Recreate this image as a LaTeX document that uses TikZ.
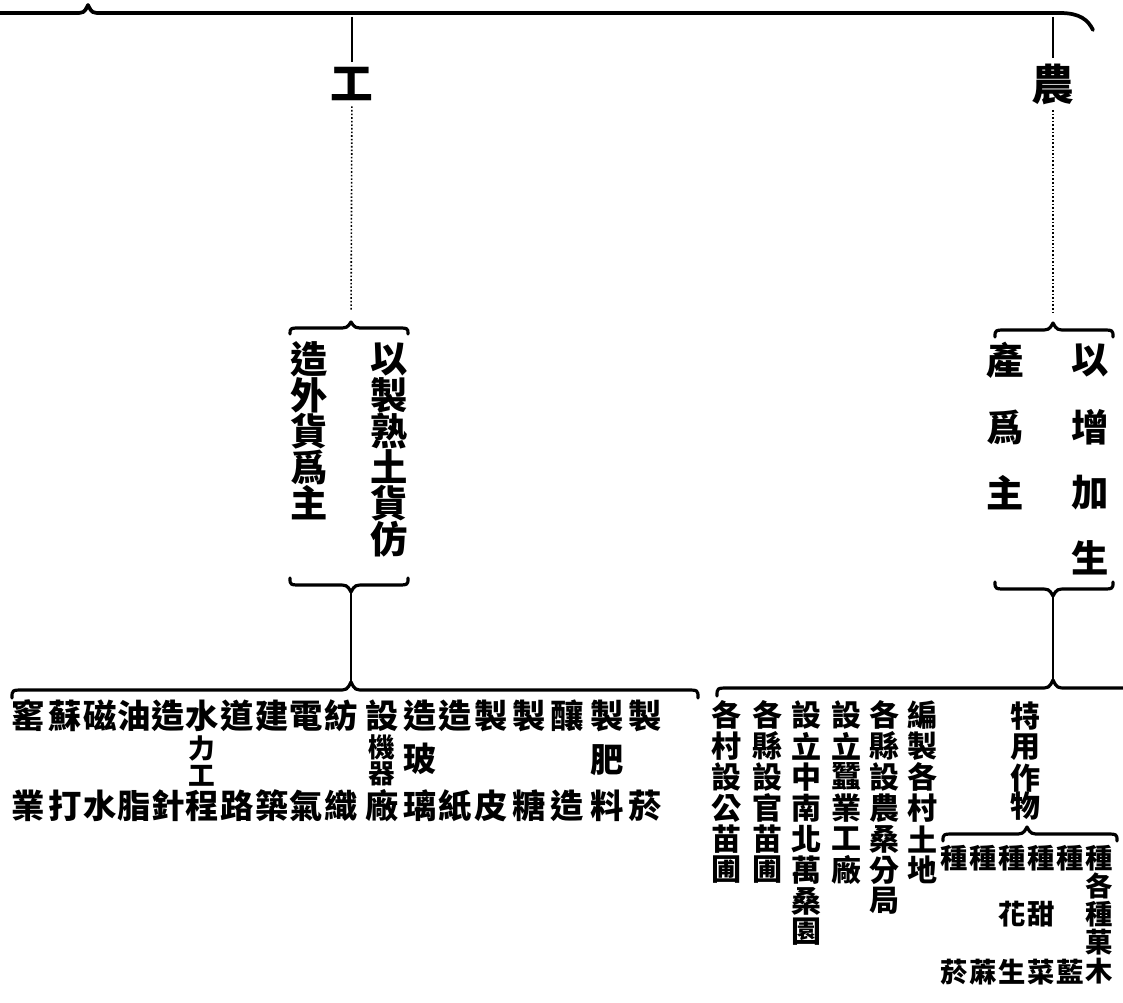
\documentclass[tikz,border=0pt]{standalone}
\usepackage{fontspec}
\newfontfamily\cjk{Noto Sans CJK TC}
\newcommand\hbrace[6]{%
  \draw[brc] ({#1},{#3-(#5)}) .. controls ({#1},{#3}) .. ({#1+12},{#3})
    -- ({#4-14},{#3}) .. controls ({#4-4},{#3}) .. ({#4},{#3+(#5)})
    .. controls ({#4+4},{#3}) .. ({#4+14},{#3}) -- ({#2-12},{#3})
    .. controls ({#2},{#3}) .. ({#2},{#3-(#5)});
  \coordinate (#6) at ({#4},{#3+(#5)});}
\newcommand\vcol[4]{\foreach \cc/\yy [count=\k] in {#4} {\node[#2] (#1-\k) at (#3,\yy) {\cc};}}
\begin{document}
\begin{tikzpicture}[x=0.75pt,y=-0.75pt,
  ch/.style={font=\cjk\bfseries\fontsize{25}{25}\selectfont, inner sep=0pt},
  chn/.style={font=\cjk\bfseries\fontsize{20}{20}\selectfont, inner sep=0pt},
  chs/.style={font=\cjk\bfseries\fontsize{22.5}{22.5}\selectfont, inner sep=0pt},
  chc/.style={font=\cjk\bfseries\fontsize{20.5}{20.5}\selectfont, inner sep=0pt},
  chm/.style={font=\cjk\bfseries\fontsize{28}{28}\selectfont, inner sep=0pt},
  chb/.style={font=\cjk\bfseries\fontsize{32}{32}\selectfont, inner sep=0pt},
  brc/.style={line width=2.4pt, line cap=round, line join=round},
  stem/.style={line width=1.4pt},
  dots/.style={line width=1.2pt, dash pattern=on 1.2pt off 1.5pt},
]
\useasboundingbox (0,0) rectangle (1123,1002);

% top brace (cut off)
\draw[brc, line width=2.8pt] (-10,13) -- (74,13) .. controls (84,13) .. (88,5)
  .. controls (92,13) .. (102,13) -- (1060,13)
  .. controls (1080,13) and (1088,20) .. (1093,30);
\coordinate (gTop) at (352,17);
\coordinate (nTop) at (1053,17);

% main categories
\node[chb] (gong) at (352,84) {工};
\node[chb] (nong) at (1053,84) {農};
\draw[stem, shorten >=4pt] (gTop) -- (gong);
\draw[stem, shorten >=4pt] (nTop) -- (nong);

% middle left
\hbrace{290}{408}{328}{351}{-6}{ulTip}
\draw[dots, shorten <=4pt, shorten >=8pt] (gong) -- (ulTip);
\vcol{ml}{chm}{389}{以/359,製/395,熟/431,土/467,貨/503,仿/539}
\vcol{mr}{chm}{309}{造/359,外/395,貨/431,爲/467,主/503}
\hbrace{290}{408}{585}{351}{7}{llTip}

% middle right
\hbrace{995}{1113}{330}{1053}{-7}{urTip}
\draw[dots, shorten <=4pt, shorten >=8pt] (nong) -- (urTip);
\vcol{nl}{chm}{1090}{以/360,增/427,加/493,生/558}
\vcol{nr}{chm}{1005}{產/360,爲/427,主/493}
\hbrace{995}{1113}{589}{1053}{7}{lrTip}

% bottom braces
\hbrace{12}{698}{690}{351}{-8}{blTip}
\hbrace{717}{1160}{688}{1053}{-8}{brTip}
\draw[stem] (llTip) -- (blTip);
\draw[stem] (lrTip) -- (brTip);

% bottom left list
\vcol{b1}{ch}{28}{窰/716,業/806}
\vcol{b2}{ch}{65}{蘇/716,打/806}
\vcol{b3}{ch}{100}{磁/716,水/806}
\vcol{b4}{ch}{134}{油/716,脂/806}
\vcol{b5}{ch}{168}{造/716,針/806}
\node[ch] (b6-1) at (202,716) {水};
\node[chn] (b6-2) at (202,748) {力};
\node[chn] (b6-3) at (202,776) {工};
\node[ch] (b6-4) at (202,806) {程};
\vcol{b7}{ch}{237}{道/716,路/806}
\vcol{b8}{ch}{272}{建/716,築/806}
\vcol{b9}{ch}{306}{電/716,氣/806}
\vcol{b10}{ch}{341}{紡/716,織/806}
\node[ch] (b11-1) at (382,716) {設};
\node[chn] (b11-2) at (382,747) {機};
\node[chn] (b11-3) at (382,774) {器};
\node[ch] (b11-4) at (382,806) {廠};
\vcol{b12}{ch}{420}{造/716,玻/759,璃/806}
\vcol{b13}{ch}{455}{造/716,紙/806}
\vcol{b14}{ch}{491}{製/716,皮/806}
\vcol{b15}{ch}{529}{製/716,糖/806}
\vcol{b16}{ch}{567}{釀/716,造/806}
\vcol{b17}{ch}{607}{製/716,肥/760,料/806}
\vcol{b18}{ch}{645}{製/716,菸/806}

% bottom right list
\vcol{r1}{chs}{726}{各/715,村/746,設/777,公/808,苗/839,圃/870}
\vcol{r2}{chs}{767}{各/715,縣/746,設/777,官/808,苗/839,圃/870}
\vcol{r3}{chs}{806}{設/715,立/746,中/777,南/808,北/839,萬/870,桑/901,園/932}
\vcol{r4}{chs}{846}{設/715,立/746,蠶/777,業/808,工/839,廠/870}
\vcol{r5}{chs}{884}{各/715,縣/746,設/777,農/808,桑/839,分/870,局/901}
\vcol{r6}{chs}{922}{編/715,製/746,各/777,村/808,土/839,地/870}

% special crops
\vcol{ty}{chs}{1025}{特/716,用/747,作/778,物/806}
\hbrace{943}{1117}{834}{1027}{-7}{tyTip}
\vcol{s1}{chc}{954}{種/858,菸/972}
\vcol{s2}{chc}{983}{種/858,蔴/972}
\vcol{s3}{chc}{1012}{種/858,花/914,生/972}
\vcol{s4}{chc}{1041}{種/858,甜/914,菜/972}
\vcol{s5}{chc}{1070}{種/858,藍/972}
\vcol{s6}{chc}{1099}{種/858,各/886,種/914,菓/942,木/971}
\end{tikzpicture}
\end{document}
